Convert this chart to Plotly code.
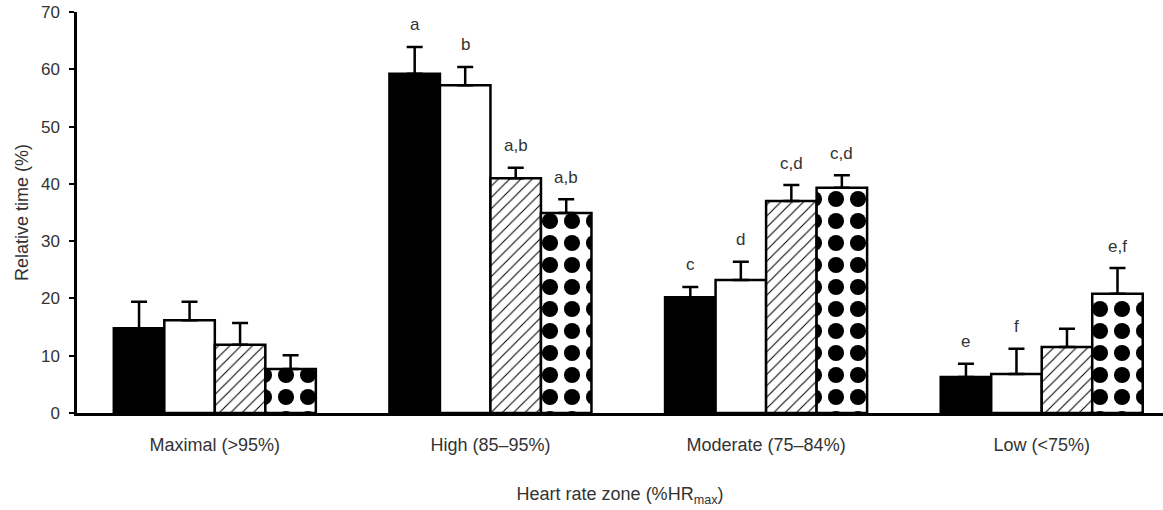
import plotly.graph_objects as go

zones = ["Maximal (>95%)", "High (85–95%)", "Moderate (75–84%)", "Low (<75%)"]

# mean relative time (%) per group, per zone
g1_mean = [14.8, 59.2, 20.2, 6.3]
g1_sd = [4.6, 4.7, 1.8, 2.3]
g2_mean = [16.2, 57.2, 23.2, 6.8]
g2_sd = [3.2, 3.2, 3.2, 4.4]
g3_mean = [11.9, 41.0, 37.0, 11.5]
g3_sd = [3.8, 1.8, 2.8, 3.2]
g4_mean = [7.7, 34.9, 39.3, 20.8]
g4_sd = [2.4, 2.4, 2.2, 4.5]

g1_lab = ["", "a", "c", "e"]
g2_lab = ["", "b", "d", "f"]
g3_lab = ["", "a,b", "c,d", ""]
g4_lab = ["", "a,b", "c,d", "e,f"]

yticks = [0, 10, 20, 30, 40, 50, 60, 70]

FONT = "Arial, Liberation Sans, sans-serif"
TXT = "#333333"

series = [
    (g1_mean, g1_sd, g1_lab, dict(color="black", line=dict(color="black", width=2.5))),
    (g2_mean, g2_sd, g2_lab, dict(color="white", line=dict(color="black", width=2.5))),
    (g3_mean, g3_sd, g3_lab, dict(color="white", line=dict(color="black", width=2.5),
                                  pattern=dict(shape="/", fgcolor="black", bgcolor="white",
                                               fgopacity=1, size=8, solidity=0.13))),
    (g4_mean, g4_sd, g4_lab, dict(color="white", line=dict(color="black", width=2.5),
                                  pattern=dict(shape=".", fgcolor="black", bgcolor="white",
                                               fgopacity=1, size=22, solidity=0.42))),
]

fig = go.Figure()
for i, (m, sd, lab, mk) in enumerate(series):
    fig.add_trace(go.Bar(
        x=list(range(len(zones))), y=m, marker=mk, offsetgroup=str(i),
        error_y=dict(type="data", symmetric=False, array=sd, arrayminus=[0] * len(sd),
                     color="black", thickness=2.5, width=8),
        showlegend=False,
    ))

# letter annotations above error bars
bar_w = (1 - 0.267) / 4
for i, (m, sd, lab, mk) in enumerate(series):
    for j in range(len(zones)):
        if lab[j]:
            fig.add_annotation(
                x=j - (1 - 0.267) / 2 + bar_w * (i + 0.5), y=m[j] + sd[j],
                text=lab[j], showarrow=False, yanchor="middle", yshift=22,
                font=dict(family=FONT, size=17, color=TXT),
            )

fig.update_layout(
    width=1163, height=510,
    margin=dict(l=77, r=0, t=12, b=97),
    plot_bgcolor="white", paper_bgcolor="white",
    barmode="group", bargap=0.267, bargroupgap=0,
    font=dict(family=FONT, size=17, color=TXT),
    xaxis=dict(
        tickmode="array", tickvals=list(range(len(zones))), ticktext=zones,
        range=[-0.5, 3.44], showline=True, linecolor="black", linewidth=2.5,
        ticks="", showgrid=False, zeroline=False, ticklabelstandoff=14,
        tickfont=dict(family=FONT, size=18, color=TXT),
        title=dict(text="Heart rate zone (%HR<sub>max</sub>)", standoff=34,
                   font=dict(family=FONT, size=18, color=TXT)),
    ),
    yaxis=dict(
        range=[0, 70], tickvals=yticks, showline=True, linecolor="black", linewidth=2.5,
        ticks="outside", ticklen=5, tickwidth=2, tickcolor="black",
        showgrid=False, zeroline=False, ticklabelstandoff=6,
        tickfont=dict(family=FONT, size=17, color=TXT),
        title=dict(text="Relative time (%)", standoff=8,
                   font=dict(family=FONT, size=18, color=TXT)),
    ),
)

fig.write_html("out.html", config={"displayModeBar": False},
               post_script="document.body.style.margin='0';")
